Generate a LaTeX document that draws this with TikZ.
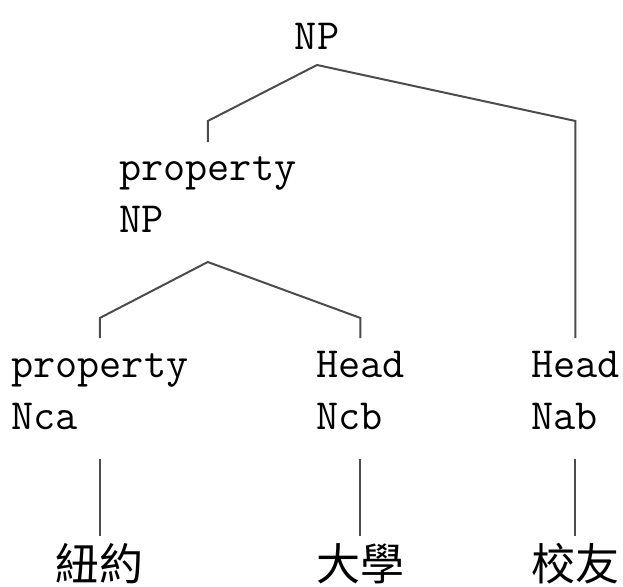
\documentclass[tikz,border=0pt]{standalone}
\usepackage{fontspec}
\newfontfamily\cjk{Noto Sans CJK TC}
\usepackage{tikz}
\usetikzlibrary{positioning}

\begin{document}
\begin{tikzpicture}[x=1pt, y=-1pt,
                lbl/.style={font=\ttfamily\fontsize{43pt}{52pt}\selectfont, align=left,
                    inner sep=0pt, anchor=south west},
                word/.style={font=\cjk\fontsize{44pt}{44pt}\selectfont, inner sep=0pt, anchor=base},
                branch/.style={draw=black!70, line width=2pt}]
                \useasboundingbox (0,0) rectangle (623,586);
                \node[lbl, anchor=south] (top) at (317,50) {NP};
                \node[lbl] (pNP) at (119,233) {property\\NP};
                \node[lbl] (Nca) at (11,430) {property\\Nca};
                \node[lbl] (Ncb) at (316,430) {Head\\Ncb};
                \node[lbl] (Nab) at (531,430) {Head\\Nab};
                \node[word] (w1) at ([yshift=-150pt]Nca.south) {紐約};
                \node[word] (w2) at ([yshift=-150pt]Ncb.south) {大學};
                \node[word] (w3) at ([yshift=-150pt]Nab.south) {校友};
                % tree branches
                \draw[branch] (pNP.south |- 0,142) -- ([yshift=-71pt]top.south -| pNP.south)
                    -- ([yshift=-15pt]top.south) -- ([yshift=-71pt]top.south -| Nab.south)
                    -- ([yshift=92pt]Nab.south);
                \draw[branch] ([yshift=92pt]Nca.south) -- ([yshift=-85pt]pNP.south -| Nca.south)
                    -- ([yshift=-29pt]pNP.south) -- ([yshift=-85pt]pNP.south -| Ncb.south)
                    -- ([yshift=92pt]Ncb.south);
                \draw[branch] ([yshift=-29pt]Nca.south) -- ([yshift=44pt]w1.base);
                \draw[branch] ([yshift=-29pt]Ncb.south) -- ([yshift=44pt]w2.base);
                \draw[branch] ([yshift=-29pt]Nab.south) -- ([yshift=44pt]w3.base);
            \end{tikzpicture}
\end{document}
